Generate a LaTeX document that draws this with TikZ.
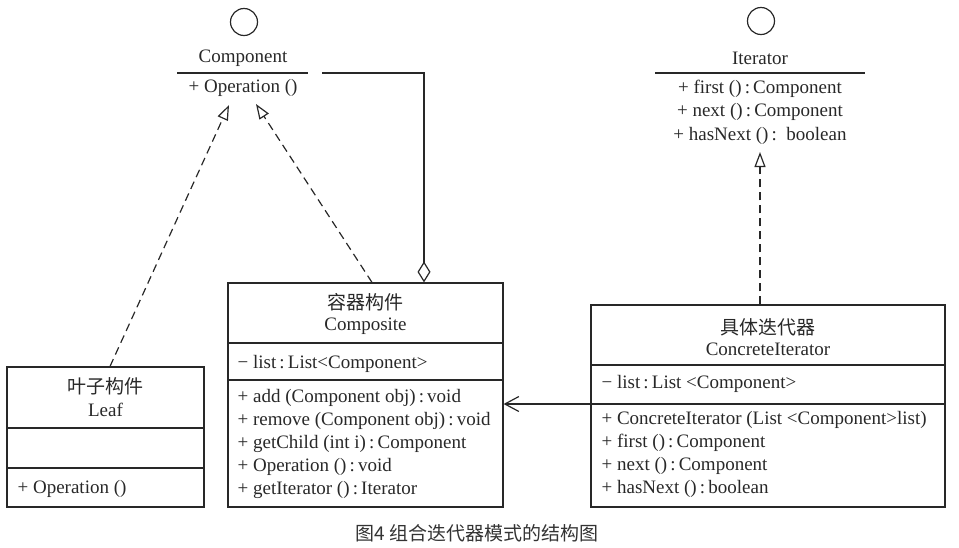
\documentclass[tikz,border=0pt]{standalone}
\usepackage{fontspec}
\setmainfont{Liberation Serif}
\newfontfamily\cjk{Noto Sans CJK SC}
\definecolor{InkGray}{RGB}{40,40,40}
\usetikzlibrary{arrows.meta, calc}

\begin{document}
\begin{tikzpicture}[x=1pt, y=-1pt, line width=1.2pt, draw=InkGray, text=InkGray,
    umlbox/.style={draw, rectangle, inner sep=0pt},
    iface/.style={draw, circle, minimum size=27pt, inner sep=0pt},
    ttl/.style={inner sep=0pt, font=\fontsize{19}{21}\selectfont},
    cttl/.style={inner sep=0pt, font=\cjk\fontsize{19}{21}\selectfont},
    member/.style={anchor=west, inner sep=0pt, font=\fontsize{19}{21}\selectfont},
    realize/.style={dashed, dash pattern=on 8pt off 5pt,
        -{Triangle[open, length=15pt, width=11pt, line width=1.2pt]}}]
      \useasboundingbox (0,0) rectangle (959,547);

      % Component interface
      \node[iface] (compball) at (244,22) {};
      \node[ttl] (compname) at (243,58) {Component};
      \draw (177,73) -- (308,73);
      \node[ttl] (compop) at (243,88) {+ Operation ()};

      % Iterator interface
      \node[iface] (iterball) at (761,21) {};
      \node[ttl] (itername) at (760,58) {Iterator};
      \draw (655,73) -- (865,73);
      \foreach \y/\txt [count=\i] in {89/{+ first ()\,:\,Component},
                                      112/{+ next ()\,:\,Component},
                                      136/{+ hasNext ()\,:~~boolean}}
        \node[ttl] (iterop\i) at (760,\y) {\txt};

      % Leaf
      \node[umlbox, minimum width=197pt, minimum height=140pt] (leaf) at (105.5,437) {};
      \draw (leaf.west |- 0,428) -- (leaf.east |- 0,428);
      \draw (leaf.west |- 0,468) -- (leaf.east |- 0,468);
      \node[cttl] (leafcn) at (105.5,386) {叶子构件};
      \node[ttl] (leafname) at (105.5,410) {Leaf};
      \node[member] (leafop) at (17,489) {+ Operation ()};

      % Composite
      \node[umlbox, minimum width=275pt, minimum height=224pt] (comp) at (365.5,395) {};
      \draw (comp.west |- 0,343) -- (comp.east |- 0,343);
      \draw (comp.west |- 0,380) -- (comp.east |- 0,380);
      \node[cttl] (compcn) at (365.5,302) {容器构件};
      \node[ttl] (compcls) at (365.5,326) {Composite};
      \node[member] (complist) at (237,364) {− list\,:\,List<Component>};
      \foreach \y/\txt [count=\i] in {398/{+ add (Component obj)\,:\,void},
                                      421/{+ remove (Component obj)\,:\,void},
                                      444/{+ getChild (int i)\,:\,Component},
                                      467/{+ Operation ()\,:\,void},
                                      490/{+ getIterator ()\,:\,Iterator}}
        \node[member] (compm\i) at (237,\y) {\txt};

      % ConcreteIterator
      \node[umlbox, minimum width=354pt, minimum height=202pt] (conc) at (768,406) {};
      \draw (conc.west |- 0,365) -- (conc.east |- 0,365);
      \draw (conc.west |- 0,404) -- (conc.east |- 0,404);
      \node[cttl] (conccn) at (768,327) {具体迭代器};
      \node[ttl] (concname) at (768,349) {ConcreteIterator};
      \node[member] (conclist) at (601,384) {− list\,:\,List <Component>};
      \foreach \y/\txt [count=\i] in {420/{+ ConcreteIterator (List <Component>list)},
                                      443/{+ first ()\,:\,Component},
                                      466/{+ next ()\,:\,Component},
                                      489/{+ hasNext ()\,:\,boolean}}
        \node[member] (concm\i) at (601,\y) {\txt};

      % relations
      \coordinate (leaftip) at (229,105);
      \coordinate (comptip) at (256,104);
      \coordinate (itertip) at (760,152);
      \draw[realize] (leaf.north -| 110,0) -- (leaftip);
      \draw[realize] (comp.north -| 372,0) -- (comptip);
      \draw[realize] (conc.north -| itertip) -- (itertip);

      \coordinate (aggstart) at (322,73);
      \draw[-{Diamond[open, length=21pt, width=13pt, line width=1.2pt]}]
            (aggstart) -- (424,73) -- (comp.north -| 424,0);

      \draw[-{Straight Barb[length=14pt, width=15pt, line width=1.2pt]}]
            (conc.west |- 0,404) -- (comp.east |- 0,404);

      \node[font=\cjk\fontsize{19}{21}\selectfont, text=black!80] (caption) at (477,533)
            {图4 组合迭代器模式的结构图};
    \end{tikzpicture}
\end{document}
